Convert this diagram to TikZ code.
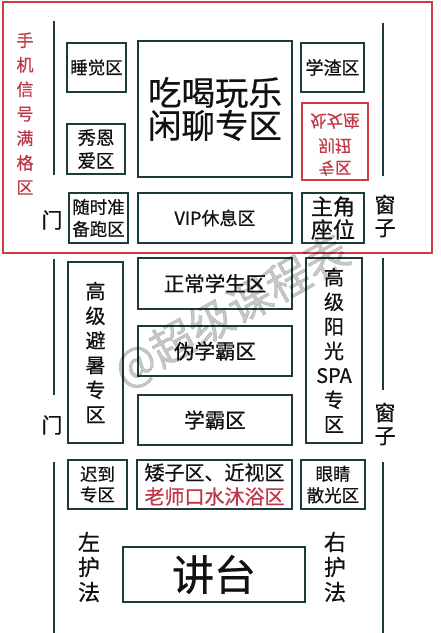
\documentclass[tikz,border=0pt]{standalone}
\usepackage{fontspec}
\usepackage{graphicx}
\setmainfont{Noto Sans CJK SC}[RawFeature={embolden=0.6}]
\definecolor{bc}{HTML}{1E3B3B}
\definecolor{rf}{HTML}{CF3A40}
\definecolor{rt}{HTML}{C03848}
\definecolor{tx}{HTML}{111111}
\newcommand{\fs}[2]{\fontsize{#1}{#2}\selectfont}
\newcommand{\vflip}[1]{\rotatebox[origin=c]{180}{\reflectbox{#1}}}
\tikzset{
  zone/.style={draw=bc, line width=2.6pt, inner sep=0pt, align=center, text=tx},
  redzone/.style={draw=rf, line width=2.2pt, inner sep=0pt},
  wall/.style={draw=bc, line width=2.4pt},
  lbl/.style={inner sep=0pt, align=center, text=tx},
}
\begin{document}
\begin{tikzpicture}[x=1pt,y=-1pt]
\fill[white] (0,0) rectangle (440,633);
\useasboundingbox (0,0) rectangle (440,633);

% red frame
\node[redzone, minimum width=429pt, minimum height=251pt] (frame) at (217.5,127.5) {};

% walls
\coordinate (lt1) at (54,21);  \coordinate (lt2) at (54,175);
\coordinate (rt1) at (383,23); \coordinate (rt2) at (383,176);
\coordinate (lm1) at (54,259); \coordinate (lm2) at (54,395);
\coordinate (rm1) at (383,258); \coordinate (rm2) at (383,390);
\coordinate (lb1) at (54,462); \coordinate (lb2) at (54,633);
\coordinate (rb1) at (383,462); \coordinate (rb2) at (383,633);
\draw[wall] (lt1) -- (lt2);
\draw[wall] (rt1) -- (rt2);
\draw[wall] (lm1) -- (lm2);
\draw[wall] (rm1) -- (rm2);
\draw[wall] (lb1) -- (lb2);
\draw[wall] (rb1) -- (rb2);

% top section
\node[lbl, text=rt, font=\fs{17}{24.5}] (signal) at (25,113.5) {手\\机\\信\\号\\满\\格\\区};
\node[zone, minimum width=59pt, minimum height=49pt, font=\fs{17.5}{22}] (sleep) at (96.5,67.5) {睡觉区};
\node[zone, minimum width=58pt, minimum height=50pt, font=\fs{18.5}{23}] (xiuen) at (96,149) {秀恩\\爱区};
\node[zone, minimum width=59pt, minimum height=50pt, font=\fs{17.5}{22}] (run) at (98.5,218) {随时准\\备跑区};
\node[zone, minimum width=154pt, minimum height=136pt, font=\fs{33.5}{33}] (eat) at (215,109) {吃喝玩乐\\闲聊专区};
\node[zone, minimum width=154pt, minimum height=50pt, font=\fs{18}{22}] (vip) at (215,218) {VIP休息区};
\node[zone, minimum width=63pt, minimum height=49pt, font=\fs{18}{22}] (xuezha) at (332.5,67.5) {学渣区};
\node[redzone, minimum width=66pt, minimum height=77pt] (virgo) at (335,141.5) {};
\node[lbl, text=rt, font=\fs{16.5}{20}] (virgo1) at (335,121) {\vflip{处女座}};
\node[lbl, text=rt, font=\fs{16.5}{20}] (virgo2) at (335,146) {\vflip{别扭}};
\node[lbl, text=rt, font=\fs{16.5}{20}] (virgo3) at (335,168) {\vflip{专区}};
\node[zone, minimum width=62pt, minimum height=50pt, font=\fs{22}{23}] (hero) at (333,218) {主角\\座位};
\node[lbl, font=\fs{21}{23}] (door1) at (52,220) {门};
\node[lbl, font=\fs{21}{23}] (win1) at (385,216) {窗\\子};

% middle section
\node[zone, minimum width=55pt, minimum height=181pt, font=\fs{20}{24.7}] (cool) at (95.5,352.5) {高\\级\\避\\暑\\专\\区};
\node[zone, minimum width=154pt, minimum height=51pt, font=\fs{20.5}{24}] (normal) at (215,283.5) {正常学生区};
\node[zone, minimum width=154pt, minimum height=50pt, font=\fs{20.5}{24}] (fake) at (215,351) {伪学霸区};
\node[zone, minimum width=154pt, minimum height=50pt, font=\fs{20.5}{24}] (xueba) at (215,420) {学霸区};
\node[zone, minimum width=56pt, minimum height=185pt, font=\fs{20}{24.5}] (spa) at (334,350.5) {高\\级\\阳\\光\\SPA\\专\\区};
\node[lbl, font=\fs{21}{23}] (door2) at (52,425) {门};
\node[lbl, font=\fs{21}{23}] (win2) at (385,424) {窗\\子};

% bottom section
\node[zone, minimum width=59pt, minimum height=49pt, font=\fs{17.5}{20.5}] (late) at (97.5,484.5) {迟到\\专区};
\node[zone, minimum width=155pt, minimum height=49pt, font=\fs{20}{24}] (short) at (214.5,484.5) {矮子区、近视区\\\textcolor{rt}{老师口水沐浴区}};
\node[zone, minimum width=64pt, minimum height=49pt, font=\fs{17.5}{21.5}] (eye) at (333,484.5) {眼睛\\散光区};
\node[zone, minimum width=182pt, minimum height=55pt, font=\fs{42}{44}] (podium) at (214,574.5) {讲台};
\node[lbl, font=\fs{22}{25}] (lguard) at (89,567) {左\\护\\法};
\node[lbl, font=\fs{22}{25}] (rguard) at (335,567) {右\\护\\法};

% watermark
\node[lbl, text=black, opacity=0.22, font=\fs{44}{46}, rotate=29] (wm) at (232,312) {@超级课程表};
\end{tikzpicture}
\end{document}
